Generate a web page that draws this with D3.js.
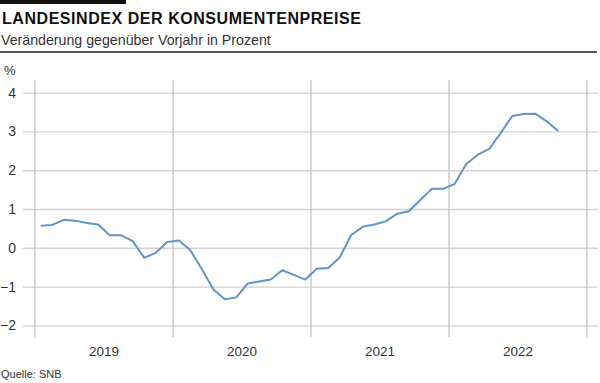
<!DOCTYPE html>
<html>
<head>
<meta charset="utf-8">
<script src="https://cdn.jsdelivr.net/npm/d3@7"></script>
<style>
  html, body { margin: 0; padding: 0; background: #fff; }
  svg { display: block; font-family: "Liberation Sans", Arial, Helvetica, sans-serif; }
</style>
</head>
<body>
<svg id="chart" width="600" height="383"></svg>
<script>
// ---- Data (monthly y/y CPI change, %, Jan 2019 – Oct 2022) ----
const yearLabels = ["2019", "2020", "2021", "2022"];
const cpi2019 = [0.57, 0.59, 0.72, 0.70, 0.64, 0.60, 0.32, 0.32, 0.17, -0.26, -0.13, 0.15];
const cpi2020 = [0.19, -0.06, -0.55, -1.07, -1.33, -1.28, -0.92, -0.87, -0.82, -0.58, -0.70, -0.82];
const cpi2021 = [-0.54, -0.52, -0.25, 0.33, 0.54, 0.60, 0.68, 0.88, 0.94, 1.23, 1.52, 1.52];
const cpi2022 = [1.65, 2.16, 2.40, 2.55, 2.96, 3.40, 3.45, 3.46, 3.26, 3.01];
const yTicks = [-2, -1, 0, 1, 2, 3, 4];

const title = "LANDESINDEX DER KONSUMENTENPREISE";
const subtitle = "Veränderung gegenüber Vorjahr in Prozent";
const unitLabel = "%";
const source = "Quelle: SNB";

const values = [].concat(cpi2019, cpi2020, cpi2021, cpi2022);
const series = values.map((v, i) => ({ m: i, v: v }));

const svg = d3.select("#chart");
const textColor = "#333";

// ---- Header ----
svg.append("rect").attr("x", 0).attr("y", 0).attr("width", 126).attr("height", 4).attr("fill", "#111");
svg.append("text").attr("x", 2).attr("y", 24)
  .attr("font-size", 16).attr("font-weight", "bold").attr("fill", "#111")
  .attr("letter-spacing", 0.55)
  .text(title);
svg.append("text").attr("x", 1).attr("y", 45)
  .attr("font-size", 14.2).attr("fill", textColor)
  .text(subtitle);
svg.append("line").attr("x1", 0).attr("x2", 597).attr("y1", 52).attr("y2", 52)
  .attr("stroke", "#222").attr("stroke-width", 1.3);

// ---- Scales ----
const x = d3.scaleLinear().domain([0, 48]).range([35, 587]);
const y = d3.scaleLinear().domain([-2, 4]).range([325.3, 92.7]);

// Horizontal gridlines + y labels
const yAxis = d3.axisLeft(y).tickValues(yTicks)
  .tickSize(-(598 - 23))
  .tickFormat(d => d < 0 ? "\u2212" + Math.abs(d) : String(d));
const gy = svg.append("g").attr("transform", "translate(23,0)").call(yAxis);
gy.select(".domain").remove();
gy.selectAll(".tick line").attr("stroke", "#d2d2d2").attr("stroke-width", 1.3);
gy.selectAll(".tick text").attr("x", -7).attr("font-size", 14).attr("fill", textColor)
  .attr("font-family", "'Liberation Sans', Arial, sans-serif");

// Vertical year lines
const yearBounds = d3.range(0, yearLabels.length + 1).map(k => k * 12);
svg.append("g").selectAll("line").data(yearBounds).join("line")
  .attr("x1", d => x(d)).attr("x2", d => x(d))
  .attr("y1", 80).attr("y2", 337)
  .attr("stroke", "#c4c4c4").attr("stroke-width", 1.3);

// Year labels
svg.append("g").selectAll("text").data(yearLabels).join("text")
  .attr("x", (d, i) => x(i * 12 + 6))
  .attr("y", 356)
  .attr("text-anchor", "middle")
  .attr("font-size", 13.5).attr("fill", textColor)
  .text(d => d);

// Unit label
svg.append("text").attr("x", 4).attr("y", 75).attr("font-size", 13).attr("fill", textColor).text(unitLabel);

// ---- Line ----
const line = d3.line().x(d => x(d.m + 0.5)).y(d => y(d.v));
svg.append("path").datum(series)
  .attr("d", line)
  .attr("fill", "none")
  .attr("stroke", "#6194c9")
  .attr("stroke-width", 2)
  .attr("stroke-linejoin", "round");

// ---- Source ----
svg.append("text").attr("x", 1).attr("y", 378).attr("font-size", 11).attr("fill", textColor).text(source);
</script>
</body>
</html>
